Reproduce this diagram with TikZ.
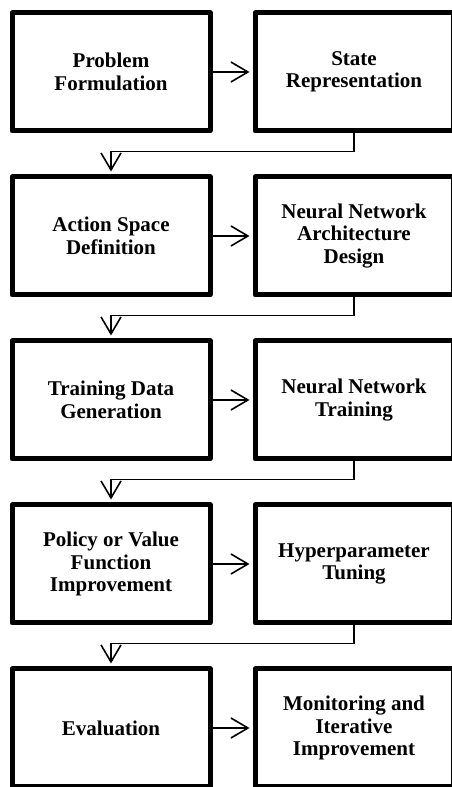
\documentclass[tikz,border=0pt]{standalone}
\usepackage{fontspec}
\setmainfont{Liberation Serif}
\usetikzlibrary{arrows.meta}

\tikzset{
  stage/.style={draw, line width=5pt, line join=round, minimum width=198pt,
    minimum height=118pt, inner sep=4pt, align=center,
    font=\fontsize{21}{22.5}\selectfont\bfseries},
  flow/.style={line width=1.6pt, -{Straight Barb[length=17pt, width=20pt]},
    shorten >=3pt},
}

\begin{document}
\begin{tikzpicture}[x=1pt, y=1pt]

\useasboundingbox (0,0) rectangle (452,787);
\clip (0,0) rectangle (452,787);

% left column, right column
\node[stage] (pf)  at (111,715) {Problem\\Formulation};
\node[stage] (sr)  at (354,715) {State\\Representation};

\node[stage] (asd) at (111,551) {Action Space\\Definition};
\node[stage] (nna) at (354,551) {Neural Network\\Architecture\\Design};

\node[stage] (tdg) at (111,387) {Training Data\\Generation};
\node[stage] (nnt) at (354,387) {Neural Network\\Training};

\node[stage] (pvf) at (111,223) {Policy or Value\\Function\\Improvement};
\node[stage] (hpt) at (354,223) {Hyperparameter\\Tuning};

\node[stage] (ev)  at (111,59)  {Evaluation};
\node[stage] (mii) at (354,59)  {Monitoring and\\Iterative\\Improvement};

% across
\draw[flow] (pf) -- (sr);
\draw[flow] (asd) -- (nna);
\draw[flow] (tdg) -- (nnt);
\draw[flow] (pvf) -- (hpt);
\draw[flow] (ev) -- (mii);

% back to the next row
\draw[flow] (sr.south) -- ++(0,-18) -| (asd.north);
\draw[flow] (nna.south) -- ++(0,-18) -| (tdg.north);
\draw[flow] (nnt.south) -- ++(0,-18) -| (pvf.north);
\draw[flow] (hpt.south) -- ++(0,-18) -| (ev.north);

\end{tikzpicture}
\end{document}
